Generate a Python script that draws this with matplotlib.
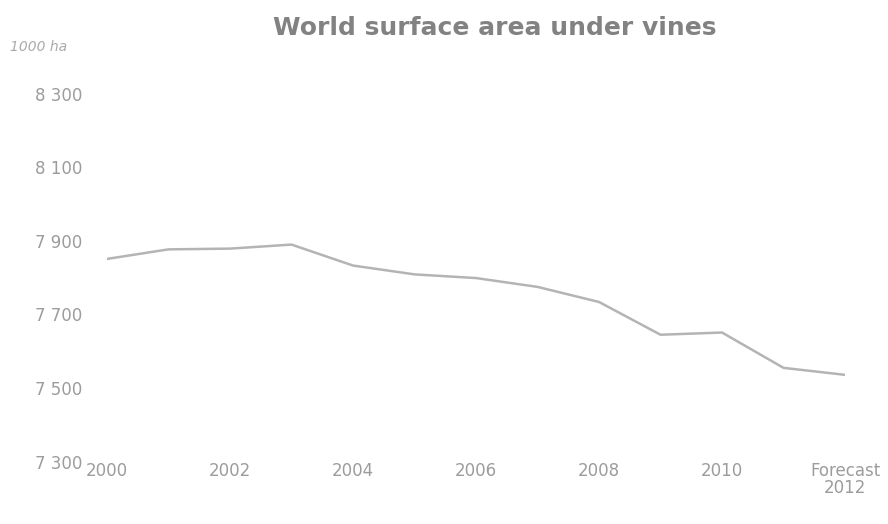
import matplotlib
matplotlib.use("Agg")
import matplotlib.pyplot as plt

# World vineyard surface area, thousand hectares
years = [2000, 2001, 2002, 2003, 2004, 2005, 2006, 2007, 2008, 2009, 2010, 2011, 2012]
area = [7851, 7877, 7879, 7890, 7833, 7809, 7799, 7775, 7734, 7645, 7651, 7555, 7536]

x_ticks = [2000, 2002, 2004, 2006, 2008, 2010, 2012]
x_labels = ["2000", "2002", "2004", "2006", "2008", "2010", "Forecast\n2012"]
y_ticks = [7300, 7500, 7700, 7900, 8100, 8300]
y_labels = ["7 300", "7 500", "7 700", "7 900", "8 100", "8 300"]

TEXT = "#9c9c9c"

fig = plt.figure(figsize=(8.88, 5.24), dpi=100)
fig.patch.set_facecolor("white")
ax = fig.add_axes([0.1205, 0.1189, 0.8311, 0.7023])

ax.plot(years, area, color="#b4b4b4", linewidth=1.8, solid_joinstyle="round")

ax.set_xlim(2000, 2012)
ax.set_ylim(7300, 8300)
ax.set_xticks(x_ticks)
ax.set_xticklabels(x_labels, linespacing=0.95)
ax.set_yticks(y_ticks)
ax.set_yticklabels(y_labels)

for side in ax.spines.values():
    side.set_visible(False)
ax.tick_params(axis="both", length=0, labelcolor=TEXT, labelsize=12)
ax.tick_params(axis="x", pad=0)
ax.tick_params(axis="y", pad=18)
for lab in ax.get_xticklabels() + ax.get_yticklabels():
    lab.set_family("DejaVu Sans")

fig.text(0.557, 0.946, "World surface area under vines", ha="center", va="center",
         fontsize=18, fontweight="bold", color="#828282", family="DejaVu Sans")
fig.text(0.011, 0.911, "1000 ha", ha="left", va="center", fontsize=10,
         style="italic", color="#aaaaaa", family="DejaVu Sans")

fig.savefig("out.png", dpi=100, facecolor="white")
